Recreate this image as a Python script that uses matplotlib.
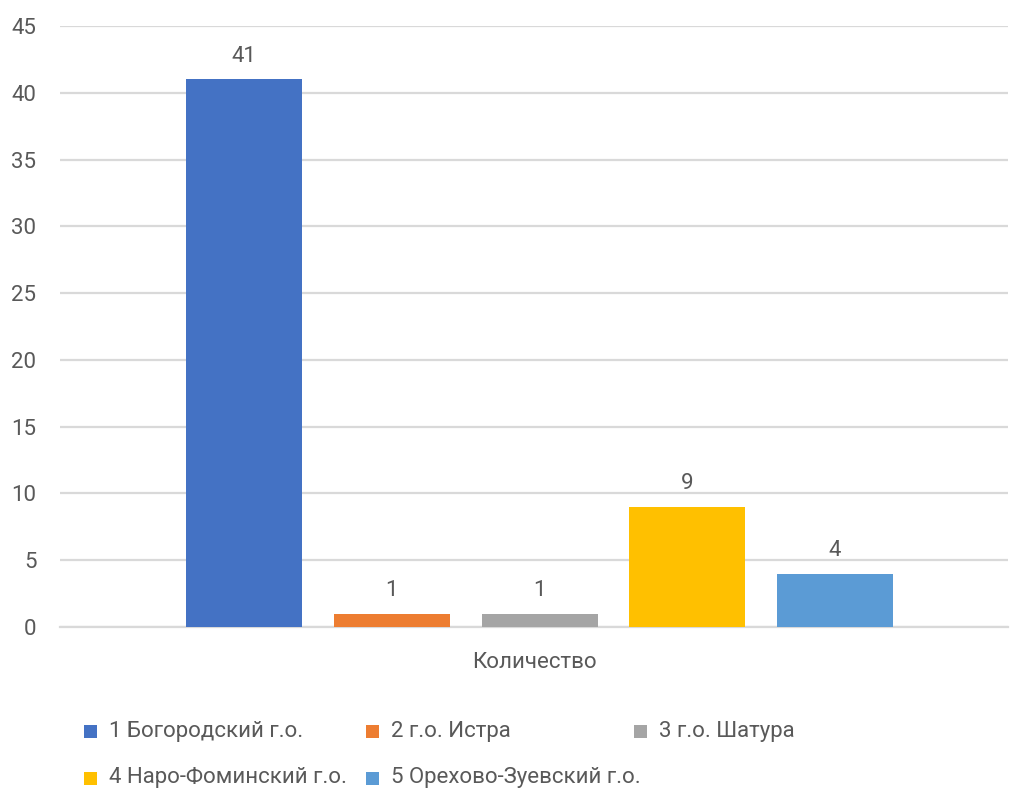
import matplotlib
matplotlib.use("Agg")
import matplotlib.pyplot as plt
from matplotlib.patches import Rectangle

plt.rcParams['font.family'] = ['Roboto', 'DejaVu Sans']

category = "Количество"
series_names = ["1 Богородский г.о.", "2 г.о. Истра", "3 г.о. Шатура",
                "4 Наро-Фоминский г.о.", "5 Орехово-Зуевский г.о."]
values = [41, 1, 1, 9, 4]
colors = ["#4472C4", "#ED7D31", "#A5A5A5", "#FFC000", "#5B9BD5"]
yticks = [0, 5, 10, 15, 20, 25, 30, 35, 40, 45]

W, H = 1010, 791
fig = plt.figure(figsize=(W / 100, H / 100), dpi=100)
ax = fig.add_axes([60 / W, 1 - 627 / H, (1008 - 60) / W, (627 - 26) / H])

text_color = "#595959"
grid_color = "#D9D9D9"
fs = 16

step = 147.75 / 948
width = 116 / 948
offset = 5.5 / 948
n = len(values)
for i, (v, c, name) in enumerate(zip(values, colors, series_names)):
    x = (i - (n - 1) / 2) * step + offset
    ax.bar(x, v, width=width, color=c, label=name, zorder=3)
    ax.annotate(str(v), (x, v), xytext=(0, 16.5), textcoords="offset points",
                ha="center", va="center", fontsize=fs, color=text_color)

ax.set_xlim(-0.5, 0.5)
ax.set_ylim(0, 45)
ax.set_yticks(yticks)
ax.set_yticklabels([str(t) for t in yticks])
ax.set_xticks([0])
ax.set_xticklabels([category])
ax.tick_params(axis="y", length=0, pad=17, labelsize=fs, labelcolor=text_color)
ax.tick_params(axis="x", length=0, pad=18, labelsize=fs, labelcolor=text_color)
ax.grid(axis="y", color=grid_color, linewidth=1.6, zorder=0)
for s in ["top", "right", "left"]:
    ax.spines[s].set_visible(False)
ax.spines["bottom"].set_color(grid_color)
ax.spines["bottom"].set_linewidth(1.6)

# Legend laid out in fixed-width columns, row-major
col_x = [90, 372, 640]
row_y = [731, 778]
sq = 13
for i, (name, c) in enumerate(zip(series_names, colors)):
    r, col = divmod(i, 3)
    mx, my = col_x[col], row_y[r]
    fig.patches.append(Rectangle(((mx - sq / 2) / W, 1 - (my + sq / 2) / H), sq / W, sq / H,
                                 transform=fig.transFigure, facecolor=c, edgecolor="none"))
    fig.text((mx + 19) / W, 1 - my / H, name, ha="left", va="center",
             fontsize=fs, color=text_color)

fig.savefig("out.png", dpi=100)
